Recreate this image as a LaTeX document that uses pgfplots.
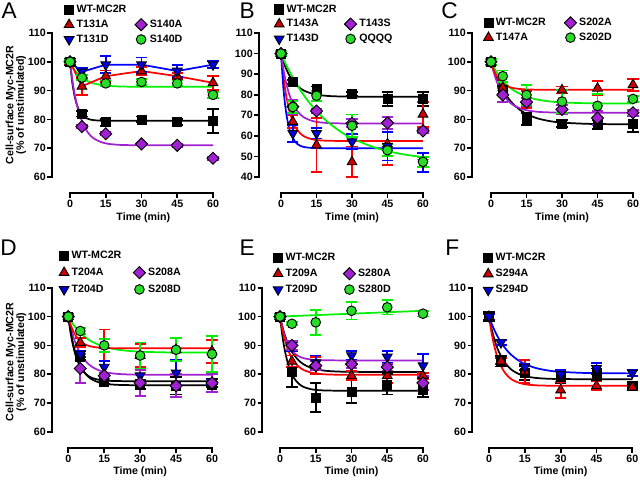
\documentclass[border=0pt]{standalone}
\usepackage{fontspec}
\setmainfont{Liberation Sans}
\usepackage{pgfplots}
\pgfplotsset{compat=1.18}

\definecolor{cRed}{RGB}{255,0,0}
\definecolor{cRedM}{RGB}{205,0,0}
\definecolor{cBlue}{RGB}{0,0,255}
\definecolor{cBlueM}{RGB}{0,0,220}
\definecolor{cPurp}{RGB}{160,32,210}
\definecolor{cGreen}{RGB}{0,240,0}
\definecolor{cGreenM}{RGB}{40,220,40}

\pgfplotsset{
  panel/.style={
    scale only axis, clip=false,
    axis x line*=bottom, axis y line*=left,
    axis line style={draw=none},
    tick align=outside,
    major tick length=3.5pt,
    tick style={black, line width=1.3pt},
    xtick={0,15,30,45,60},
    xmax=62, ymax=112,
    /pgf/number format/assume math mode=true,
    ticklabel style={font=\fontsize{8}{9.6}\selectfont\bfseries},
    xticklabel style={inner sep=0.5pt, yshift=-1.2pt},
    yticklabel style={inner sep=1pt},
    label style={font=\fontsize{8}{8}\selectfont\bfseries},
    xlabel style={inner sep=1pt},
    xlabel={Time (min)},
    legend cell align=left,
    legend style={draw=none, fill=none, inner sep=0pt, outer sep=0pt, anchor=north west,
      font=\fontsize{8}{9}\selectfont\bfseries},
  },
  mWT/.style={mark=square*, mark size=3.4pt, mark options={draw=black, fill=black, line width=0.5pt, solid}},
  mTA/.style={mark=triangle*, mark size=4.2pt, mark options={draw=black, fill=cRedM, line width=0.7pt, solid}},
  mTD/.style={mark=triangle*, mark size=4.2pt, mark options={draw=black, fill=cBlueM, line width=0.7pt, rotate=180, solid}},
  mSA/.style={mark=square*, mark size=3.2pt, mark options={draw=black, fill=cPurp, line width=0.7pt, rotate=45, solid}},
  mSD/.style={mark=*, mark size=3.6pt, mark options={draw=black, fill=cGreenM, line width=0.7pt, solid}},
  eb/.style={error bars/y dir=both, error bars/y explicit,
    error bars/error bar style={draw=#1, line width=1.4pt},
    error bars/error mark options={rotate=90, draw=#1, mark size=4.2pt, line width=1.4pt}},
  limg/.style={legend image code/.code={\draw[mark repeat=2,mark phase=2,##1] plot coordinates {(0cm,0cm)(0.16cm,0cm)(0.32cm,0cm)};}},
  fit/.style={#1, line width=1.3pt, mark=none, smooth, forget plot},
  dat/.style 2 args={only marks, #1, eb=#2, forget plot},
}

\begin{document}
\begin{tikzpicture}
\useasboundingbox (0,0) rectangle (480pt,360pt);

% ---------------- Panel A ----------------
\begin{axis}[panel, at={(39pt,215.25pt)}, anchor=south west,
  width=124.33pt, height=124.32pt, xmin=-7.552, ymin=54.444,
  ytick={60,70,80,90,100,110},
  ylabel={Cell-surface Myc-MC2R\\(\% of unstimulated)},
  ylabel style={align=center, at={(axis description cs:-0.218,0.531)}, anchor=center},
  xlabel style={at={(axis description cs:0.551,-0.151)}, anchor=center},
  legend columns=2,
  legend style={at={(axis description cs:0.074,1.149)}, /tikz/every even column/.append style={column sep=4.5pt}},
]
\draw[line width=1.4pt, line cap=rect] (axis cs:0,54.444) -- (axis cs:60,54.444);
\draw[line width=1.4pt, line cap=rect] (axis cs:-7.552,60) -- (axis cs:-7.552,110);
\addlegendimage{only marks, mWT, limg}\addlegendentry{WT-MC2R}
\addlegendimage{empty legend}\addlegendentry{}
\addlegendimage{only marks, mTA, limg}\addlegendentry{T131A}
\addlegendimage{only marks, mSA, limg}\addlegendentry{S140A}
\addlegendimage{only marks, mTD, limg}\addlegendentry{T131D}
\addlegendimage{only marks, mSD, limg}\addlegendentry{S140D}
\addplot[fit=black] coordinates {(0,100)(1,92.57)(2,87.84)(3,84.81)(4,82.89)(6,80.88)(8,80.06)(10,79.73)(13,79.56)(16,79.51)(20,79.5)(30,79.5)(45,79.5)(60,79.5)};
\addplot[fit=cPurp] coordinates {(0,100)(1,93.59)(2,88.59)(3,84.70)(4,81.67)(6,77.47)(8,74.92)(10,73.38)(13,72.13)(16,71.53)(20,71.19)(25,71.06)(30,71.02)(45,71)(60,71)};
\addplot[fit=cGreen] coordinates {(0,100)(1,98.42)(2,97.13)(3,96.07)(4,95.21)(6,93.92)(8,93.06)(10,92.48)(13,91.95)(16,91.65)(20,91.46)(25,91.36)(30,91.32)(40,91.3)(60,91.3)};
\addplot[cRed, line width=1.3pt, forget plot] coordinates {(0,100)(5,91.5)(15,95)(30,96.8)(45,95)(60,92.7)};
\addplot[cBlue, line width=1.3pt, forget plot] coordinates {(0,100)(5,96.5)(15,99)(30,99)(45,96.8)(60,99)};
\addplot[dat={mWT}{black}] coordinates {(0,100) +- (0,1) (5,82) +- (0,1) (15,79) +- (0,1.2) (30,80) +- (0,1) (45,79) +- (0,1) (60,79.5) +- (0,4.2)};
\addplot[dat={mTA}{cRed}] coordinates {(0,100) +- (0,0.8) (5,91.5) +- (0,3) (15,95) +- (0,2) (30,96.8) +- (0,1.5) (45,95) +- (0,1) (60,92.7) +- (0,2.5)};
\addplot[dat={mTD}{cBlue}] coordinates {(0,100) +- (0,0.5) (5,96.5) +- (0,1.2) (15,99) +- (0,3) (30,99) +- (0,2.5) (45,96.8) +- (0,2) (60,99) +- (0,1.2)};
\addplot[dat={mSA}{cPurp}] coordinates {(0,100) +- (0,0.5) (5,77.5) +- (0,0.5) (15,75) +- (0,0.5) (30,71.5) +- (0,0.5) (45,71) +- (0,0.5) (60,66.5) +- (0,0.5)};
\addplot[dat={mSD}{cGreen}] coordinates {(0,100) +- (0,0.5) (5,94.5) +- (0,0.8) (15,92.5) +- (0,1) (30,93) +- (0,1) (45,92.5) +- (0,1) (60,88.5) +- (0,1)};
\end{axis}

% ---------------- Panel B ----------------
\begin{axis}[panel, at={(194.25pt,215.25pt)}, anchor=south west,
  width=126.55pt, height=123.09pt, xmin=-9.296, ymin=32.222,
  ytick={40,50,60,70,80,90,100,110},
  xlabel style={at={(axis description cs:0.551,-0.153)}, anchor=center},
  legend columns=2,
  legend style={at={(axis description cs:0.091,1.164)}, /tikz/every even column/.append style={column sep=4pt}},
]
\draw[line width=1.4pt, line cap=rect] (axis cs:0,32.222) -- (axis cs:60,32.222);
\draw[line width=1.4pt, line cap=rect] (axis cs:-9.296,40) -- (axis cs:-9.296,110);
\addlegendimage{only marks, mWT, limg}\addlegendentry{WT-MC2R}
\addlegendimage{empty legend}\addlegendentry{}
\addlegendimage{only marks, mTA, limg}\addlegendentry{T143A}
\addlegendimage{only marks, mSA, limg}\addlegendentry{T143S}
\addlegendimage{only marks, mTD, limg}\addlegendentry{T143D}
\addlegendimage{only marks, mSD, limg}\addlegendentry{QQQQ}
\addplot[fit=black] coordinates {(0,100)(1,96.19)(2,93.08)(3,90.52)(4,88.44)(6,85.33)(8,83.24)(10,81.84)(13,80.56)(16,79.86)(20,79.38)(25,79.14)(30,79.05)(40,79.01)(60,79)};
\addplot[fit=cRed] coordinates {(0,100)(1,88.98)(2,80.82)(3,74.78)(4,70.30)(6,64.53)(8,61.35)(10,59.62)(13,58.36)(16,57.85)(20,57.61)(25,57.53)(30,57.5)(45,57.5)(60,57.5)};
\addplot[fit=cBlue] coordinates {(0,100)(1,83.33)(2,72.70)(3,65.92)(4,61.60)(6,57.09)(8,55.26)(10,54.51)(13,54.13)(16,54.03)(20,54)(30,54)(45,54)(60,54)};
\addplot[fit=cPurp] coordinates {(0,100)(1,92.48)(2,86.62)(3,82.06)(4,78.51)(6,73.59)(8,70.60)(10,68.79)(13,67.32)(16,66.62)(20,66.23)(25,66.06)(30,66.02)(45,66)(60,66)};
\addplot[fit=cGreen] coordinates {(0,100)(1,97.41)(2,94.95)(3,92.62)(4,90.39)(6,86.26)(8,82.53)(10,79.14)(13,74.67)(16,70.81)(20,66.50)(25,62.18)(30,58.82)(40,54.17)(50,51.35)(60,49.64)};
\addplot[dat={mWT}{black}] coordinates {(0,100) +- (0,1) (5,86.3) +- (0,1) (15,82.8) +- (0,1.2) (30,80.3) +- (0,1) (45,77.9) +- (0,3.5) (60,77.9) +- (0,3.5)};
\addplot[dat={mTA}{cRed}] coordinates {(0,100) +- (0,1) (5,66.9) +- (0,3) (15,55.5) +- (0,13) (30,47.3) +- (0,7.5) (45,56) +- (0,10) (60,70.5) +- (0,6)};
\addplot[dat={mTD}{cBlue}] coordinates {(0,100) +- (0,1) (5,61.2) +- (0,4) (15,61.2) +- (0,2.5) (30,57.2) +- (0,3.5) (45,55) +- (0,7) (60,47) +- (0,4.5)};
\addplot[dat={mSA}{cPurp}] coordinates {(0,100) +- (0,1) (5,74.2) +- (0,3.5) (15,72.1) +- (0,1) (30,66.1) +- (0,2) (45,66.3) +- (0,3) (60,62.4) +- (0,1)};
\addplot[dat={mSD}{cGreen}] coordinates {(0,100) +- (0,1) (5,74) +- (0,3) (15,79.5) +- (0,2.5) (30,64.9) +- (0,5.5) (45,53) +- (0,3) (60,47.4) +- (0,2.5)};
\end{axis}

% ---------------- Panel C ----------------
\begin{axis}[panel, at={(354pt,215.25pt)}, anchor=south west,
  width=124.30pt, height=124.32pt, xmin=-8.028, ymin=54.444,
  ytick={60,70,80,90,100,110},
  xlabel style={at={(axis description cs:0.543,-0.151)}, anchor=center},
  legend columns=2,
  legend style={at={(axis description cs:0.070,1.071)}, /tikz/every even column/.append style={column sep=12pt}},
]
\draw[line width=1.4pt, line cap=rect] (axis cs:0,54.444) -- (axis cs:60,54.444);
\draw[line width=1.4pt, line cap=rect] (axis cs:-8.028,60) -- (axis cs:-8.028,110);
\addlegendimage{only marks, mWT, limg}\addlegendentry{WT-MC2R}
\addlegendimage{only marks, mSA, limg}\addlegendentry{S202A}
\addlegendimage{only marks, mTA, limg}\addlegendentry{T147A}
\addlegendimage{only marks, mSD, limg}\addlegendentry{S202D}
\addplot[fit=black] coordinates {(0,100)(1,97.55)(2,95.37)(3,93.44)(4,91.73)(6,88.86)(8,86.61)(10,84.84)(13,82.86)(16,81.48)(20,80.27)(25,79.38)(30,78.89)(40,78.48)(50,78.35)(60,78.32)};
\addplot[fit=cPurp] coordinates {(0,100)(1,96.79)(2,94.16)(3,92.01)(4,90.25)(6,87.63)(8,85.87)(10,84.69)(13,83.62)(16,83.02)(20,82.62)(25,82.42)(30,82.34)(40,82.31)(60,82.3)};
\addplot[fit=cGreen] coordinates {(0,100)(1,98.36)(2,96.91)(3,95.62)(4,94.47)(6,92.56)(8,91.05)(10,89.87)(13,88.55)(16,87.63)(20,86.82)(25,86.22)(30,85.90)(40,85.62)(50,85.54)(60,85.51)};
\addplot[fit=cRed] coordinates {(0,100)(1,97.49)(2,95.62)(3,94.24)(4,93.22)(6,91.90)(8,91.18)(10,90.78)(13,90.50)(16,90.38)(20,90.32)(30,90.3)(45,90.3)(60,90.3)};
\addplot[dat={mWT}{black}] coordinates {(0,100) +- (0,1) (5,90.2) +- (0,1.5) (15,80.2) +- (0,2) (30,78.5) +- (0,1.2) (45,78.3) +- (0,1.5) (60,78.5) +- (0,2.8)};
\addplot[dat={mTA}{cRed}] coordinates {(0,100) +- (0,1) (5,91) +- (0,2) (15,87) +- (0,3) (30,90.2) +- (0,1.2) (45,90.8) +- (0,2.5) (60,92) +- (0,2)};
\addplot[dat={mSA}{cPurp}] coordinates {(0,100) +- (0,1) (5,88.5) +- (0,2.5) (15,86) +- (0,1.5) (30,83.5) +- (0,1.5) (45,80.5) +- (0,2.5) (60,82.3) +- (0,1)};
\addplot[dat={mSD}{cGreen}] coordinates {(0,100) +- (0,1) (5,95) +- (0,2) (15,88.5) +- (0,3.5) (30,86.2) +- (0,4) (45,84.7) +- (0,4) (60,87.1) +- (0,1)};
\end{axis}

% ---------------- Panel D ----------------
\begin{axis}[panel, at={(39pt,23.775pt)}, anchor=south west,
  width=123.59pt, height=124.78pt, xmin=-6.806, ymin=54.352,
  ytick={60,70,80,90,100,110},
  ylabel={Cell-surface Myc-MC2R\\(\% of unstimulated)},
  ylabel style={align=center, at={(axis description cs:-0.219,0.519)}, anchor=center},
  xlabel style={at={(axis description cs:0.535,-0.141)}, anchor=center},
  legend columns=2,
  legend style={at={(axis description cs:0.044,1.201)}, /tikz/every even column/.append style={column sep=7pt}, row sep=1.5pt},
]
\draw[line width=1.4pt, line cap=rect] (axis cs:0,54.352) -- (axis cs:60,54.352);
\draw[line width=1.4pt, line cap=rect] (axis cs:-6.806,60) -- (axis cs:-6.806,110);
\addlegendimage{only marks, mWT, limg}\addlegendentry{WT-MC2R}
\addlegendimage{empty legend}\addlegendentry{}
\addlegendimage{only marks, mTA, limg}\addlegendentry{T204A}
\addlegendimage{only marks, mSA, limg}\addlegendentry{S208A}
\addlegendimage{only marks, mTD, limg}\addlegendentry{T204D}
\addlegendimage{only marks, mSD, limg}\addlegendentry{S208D}
\addplot[fit=cPurp] coordinates {(0,100)(1,96.34)(2,93.34)(3,90.89)(4,88.88)(6,85.88)(8,83.88)(10,82.53)(13,81.30)(16,80.62)(20,80.17)(25,79.94)(30,79.85)(40,79.81)(60,79.8)};
\addplot[fit=black] coordinates {(0,100)(1,94.19)(2,89.89)(3,86.71)(4,84.35)(6,81.30)(8,79.63)(10,78.72)(13,78.05)(16,77.78)(20,77.66)(25,77.61)(30,77.6)(45,77.6)(60,77.6)};
\addplot[fit=black] coordinates {(0,100)(1,94.74)(2,90.63)(3,87.44)(4,84.96)(6,81.51)(8,79.42)(10,78.15)(13,77.12)(16,76.64)(20,76.36)(25,76.25)(30,76.21)(45,76.2)(60,76.2)};
\addplot[fit=cGreen] coordinates {(0,100)(1,98.59)(2,97.33)(3,96.22)(4,95.24)(6,93.59)(8,92.29)(10,91.27)(13,90.13)(16,89.33)(20,88.63)(25,88.12)(30,87.84)(40,87.60)(50,87.53)(60,87.51)};
\addplot[fit=cRed] coordinates {(0,100)(1,97.15)(2,95.04)(3,93.47)(4,92.31)(6,90.82)(8,90.00)(10,89.55)(13,89.22)(16,89.09)(20,89.03)(30,89)(45,89)(60,89)};
\addplot[dat={mWT}{black}] coordinates {(0,100) +- (0,1) (5,86) +- (0,1) (15,77.5) +- (0,1) (30,76.5) +- (0,1.5) (45,76) +- (0,3) (60,76.5) +- (0,1)};
\addplot[dat={mTA}{cRed}] coordinates {(0,100) +- (0,1) (5,91) +- (0,1.5) (15,90) +- (0,5.5) (30,86.5) +- (0,4) (45,88.5) +- (0,4) (60,88) +- (0,4)};
\addplot[dat={mTD}{cBlue}] coordinates {(0,100) +- (0,1) (5,87) +- (0,1) (15,82.5) +- (0,2) (30,79.5) +- (0,2) (45,80.5) +- (0,4.5) (60,77.5) +- (0,1)};
\addplot[dat={mSA}{cPurp}] coordinates {(0,100) +- (0,1) (5,82) +- (0,5) (15,79.5) +- (0,1) (30,77) +- (0,4.5) (45,76) +- (0,4) (60,77) +- (0,3)};
\addplot[dat={mSD}{cGreen}] coordinates {(0,100) +- (0,1) (5,95) +- (0,1) (15,90) +- (0,2.2) (30,86.5) +- (0,4.5) (45,88.5) +- (0,4) (60,87) +- (0,6.2)};
\end{axis}

% ---------------- Panel E ----------------
\begin{axis}[panel, at={(196.725pt,23.775pt)}, anchor=south west,
  width=124.10pt, height=124.78pt, xmin=-7.427, ymin=54.352,
  ytick={60,70,80,90,100,110},
  xlabel style={at={(axis description cs:0.539,-0.141)}, anchor=center},
  legend columns=2,
  legend style={at={(axis description cs:0.066,1.189)}, /tikz/every even column/.append style={column sep=4pt}, row sep=0.8pt},
]
\draw[line width=1.4pt, line cap=rect] (axis cs:0,54.352) -- (axis cs:60,54.352);
\draw[line width=1.4pt, line cap=rect] (axis cs:-7.427,60) -- (axis cs:-7.427,110);
\addlegendimage{only marks, mWT, limg}\addlegendentry{WT-MC2R}
\addlegendimage{empty legend}\addlegendentry{}
\addlegendimage{only marks, mTA, limg}\addlegendentry{T209A}
\addlegendimage{only marks, mSA, limg}\addlegendentry{S280A}
\addlegendimage{only marks, mTD, limg}\addlegendentry{T209D}
\addlegendimage{only marks, mSD, limg}\addlegendentry{S280D}
\addplot[fit=black] coordinates {(0,100)(1,93.34)(2,88.40)(3,84.75)(4,82.04)(6,78.55)(8,76.63)(10,75.58)(13,74.82)(16,74.51)(20,74.36)(25,74.32)(30,74.3)(45,74.3)(60,74.3)};
\addplot[fit=black] coordinates {(0,100)(1,96.52)(2,93.67)(3,91.34)(4,89.43)(6,86.58)(8,84.68)(10,83.40)(13,82.23)(16,81.58)(20,81.15)(25,80.93)(30,80.85)(40,80.81)(60,80.8)};
\addplot[fit=cPurp] coordinates {(0,100)(1,96.06)(2,93.14)(3,90.98)(4,89.38)(6,87.31)(8,86.18)(10,85.56)(13,85.11)(16,84.92)(20,84.84)(30,84.8)(45,84.8)(60,84.8)};
\addplot[fit=cRed] coordinates {(0,100)(1,95.53)(2,92.05)(3,89.34)(4,87.23)(6,84.31)(8,82.53)(10,81.46)(13,80.58)(16,80.17)(20,79.94)(25,79.84)(30,79.81)(45,79.8)(60,79.8)};
\addplot[cGreen, line width=1.3pt, forget plot] coordinates {(0,100)(60,102)};
\addplot[dat={mWT}{black}] coordinates {(0,100) +- (0,1) (5,81) +- (0,5.5) (15,72) +- (0,5) (30,74) +- (0,4) (45,76.5) +- (0,3.5) (60,74.5) +- (0,2.5)};
\addplot[dat={mTA}{cRed}] coordinates {(0,100) +- (0,1) (5,84.5) +- (0,2) (15,83) +- (0,3) (30,79.5) +- (0,1.5) (45,79.5) +- (0,2.5) (60,79.5) +- (0,1)};
\addplot[dat={mTD}{cBlue}] coordinates {(0,100) +- (0,1) (5,89.5) +- (0,1.5) (15,84) +- (0,2.5) (30,86.5) +- (0,1.5) (45,86) +- (0,2) (60,83) +- (0,4)};
\addplot[dat={mSA}{cPurp}] coordinates {(0,100) +- (0,1) (5,90) +- (0,1.5) (15,83) +- (0,1.5) (30,83.5) +- (0,1.2) (45,82.5) +- (0,1.2) (60,77) +- (0,2.5)};
\addplot[dat={mSD}{cGreen}] coordinates {(0,100) +- (0,0.5) (5,97.5) +- (0,0.5) (15,98) +- (0,4.3) (30,102) +- (0,3) (45,103.2) +- (0,2.5) (60,101) +- (0,1)};
\end{axis}

% ---------------- Panel F ----------------
\begin{axis}[panel, at={(354.225pt,23.775pt)}, anchor=south west,
  width=123.58pt, height=124.78pt, xmin=-6.992, ymin=54.352,
  ytick={60,70,80,90,100,110},
  xlabel style={at={(axis description cs:0.536,-0.141)}, anchor=center},
  legend columns=1,
  legend style={at={(axis description cs:0.067,1.189)}, row sep=1pt},
]
\draw[line width=1.4pt, line cap=rect] (axis cs:0,54.352) -- (axis cs:60,54.352);
\draw[line width=1.4pt, line cap=rect] (axis cs:-6.992,60) -- (axis cs:-6.992,110);
\addlegendimage{only marks, mWT, limg}\addlegendentry{WT-MC2R}
\addlegendimage{only marks, mTA, limg}\addlegendentry{S294A}
\addlegendimage{only marks, mTD, limg}\addlegendentry{S294D}
\addplot[fit=black] coordinates {(0,100)(1,96.07)(2,92.85)(3,90.21)(4,88.05)(6,84.84)(8,82.68)(10,81.24)(13,79.91)(16,79.19)(20,78.70)(25,78.45)(30,78.35)(40,78.31)(60,78.3)};
\addplot[fit=cRed] coordinates {(0,100)(1,94.69)(2,90.56)(3,87.34)(4,84.83)(6,81.35)(8,79.25)(10,77.97)(13,76.93)(16,76.44)(20,76.16)(25,76.05)(30,76.01)(45,76)(60,76)};
\addplot[fit=cBlue] coordinates {(0,100)(1,97.77)(2,95.80)(3,94.04)(4,92.49)(6,89.89)(8,87.84)(10,86.23)(13,84.44)(16,83.19)(20,82.09)(25,81.28)(30,80.84)(40,80.46)(50,80.35)(60,80.31)};
\addplot[dat={mWT}{black}] coordinates {(0,100) +- (0,1.5) (5,84.5) +- (0,1.8) (15,80.5) +- (0,2.5) (30,79) +- (0,2) (45,80) +- (0,2) (60,76) +- (0,1.5)};
\addplot[dat={mTA}{cRed}] coordinates {(0,100) +- (0,1) (5,84.5) +- (0,1) (15,81) +- (0,4) (30,74.5) +- (0,2.7) (45,76) +- (0,1.5) (60,75.5) +- (0,1)};
\addplot[dat={mTD}{cBlue}] coordinates {(0,100) +- (0,1) (5,91) +- (0,1) (15,82.5) +- (0,1) (30,80) +- (0,1.5) (45,82) +- (0,2) (60,80.5) +- (0,1)};
\end{axis}

% panel letters
\node[anchor=base west, inner sep=0pt, font=\fontsize{17}{17}\selectfont] at (1pt,346.3pt) {A};
\node[anchor=base west, inner sep=0pt, font=\fontsize{17}{17}\selectfont] at (179.6pt,346.3pt) {B};
\node[anchor=base west, inner sep=0pt, font=\fontsize{17}{17}\selectfont] at (330.75pt,346.3pt) {C};
\node[anchor=base west, inner sep=0pt, font=\fontsize{17}{17}\selectfont] at (0pt,168.75pt) {D};
\node[anchor=base west, inner sep=0pt, font=\fontsize{17}{17}\selectfont] at (179.6pt,168.75pt) {E};
\node[anchor=base west, inner sep=0pt, font=\fontsize{17}{17}\selectfont] at (333.8pt,168.75pt) {F};
\end{tikzpicture}
\end{document}
